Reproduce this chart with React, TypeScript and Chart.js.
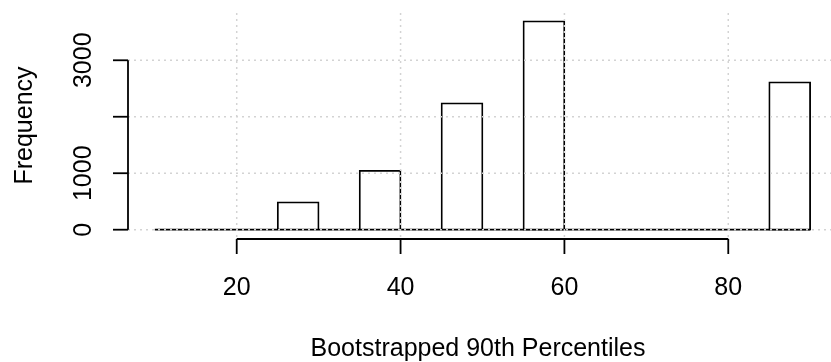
import React, { useEffect, useRef } from "react";
import { Chart, registerables } from "chart.js";

Chart.register(...registerables);

// Histogram bins (break points) and counts per bin
const breaks = [10, 15, 20, 25, 30, 35, 40, 45, 50, 55, 60, 65, 70, 75, 80, 85, 90];
const counts = [0, 0, 0, 485, 0, 1045, 0, 2238, 0, 3690, 0, 0, 0, 0, 0, 2610];

// Axis ticks and labels
const xTicks = [20, 40, 60, 80];
const xTickLabels = ["20", "40", "60", "80"];
const yTicks = [0, 1000, 2000, 3000];
const yTickLabels = ["0", "1000", "", "3000"];
const xTitle = "Bootstrapped 90th Percentiles";
const yTitle = "Frequency";

const W = 831;
const H = 362;
const FONT = '25px "Liberation Sans", Arial, sans-serif';
const LINE_W = 1.8;

export default function App() {
  const ref = useRef<HTMLCanvasElement | null>(null);

  useEffect(() => {
    document.body.style.margin = "0";
    const canvas = ref.current;
    if (!canvas) return;

    const barData = counts.map((c, i) => ({ x: (breaks[i] + breaks[i + 1]) / 2, y: c }));
    const baseData = [
      { x: breaks[0], y: 0 },
      { x: breaks[breaks.length - 1], y: 0 },
    ];

    const rAxes = {
      id: "rAxes",
      afterDatasetsDraw(chart: any) {
        const { ctx, chartArea: ca } = chart;
        const xs = chart.scales.x;
        const ys = chart.scales.y;
        const line = (x1: number, y1: number, x2: number, y2: number) => {
          ctx.beginPath();
          ctx.moveTo(x1, y1);
          ctx.lineTo(x2, y2);
          ctx.stroke();
        };
        ctx.save();
        // grid (drawn over the bars, as R's grid() does)
        ctx.strokeStyle = "#d3d3d3";
        ctx.lineWidth = 1.5;
        ctx.setLineDash([2, 4]);
        for (const v of xTicks) {
          const px = xs.getPixelForValue(v);
          line(px, ca.top, px, ca.bottom);
        }
        for (const v of yTicks) {
          const py = ys.getPixelForValue(v);
          line(ca.left, py, ca.right, py);
        }
        ctx.setLineDash([]);

        // axes
        ctx.strokeStyle = "#000";
        ctx.lineWidth = LINE_W;
        const axY = ca.bottom + 1;
        const x0 = xs.getPixelForValue(xTicks[0]);
        const x1 = xs.getPixelForValue(xTicks[xTicks.length - 1]);
        line(x0, axY, x1, axY);
        for (const v of xTicks) {
          const px = xs.getPixelForValue(v);
          line(px, axY, px, axY + 15);
        }
        const axX = ca.left;
        const y0 = ys.getPixelForValue(yTicks[0]);
        const y1 = ys.getPixelForValue(yTicks[yTicks.length - 1]);
        line(axX, y0, axX, y1);
        for (const v of yTicks) {
          const py = ys.getPixelForValue(v);
          line(axX - 15, py, axX, py);
        }

        // tick labels
        ctx.fillStyle = "#000";
        ctx.font = FONT;
        ctx.textAlign = "center";
        ctx.textBaseline = "alphabetic";
        xTicks.forEach((v, i) => {
          ctx.fillText(xTickLabels[i], xs.getPixelForValue(v), ca.bottom + 56.5);
        });
        yTicks.forEach((v, i) => {
          if (!yTickLabels[i]) return;
          ctx.save();
          ctx.translate(ca.left - 37.5, ys.getPixelForValue(v));
          ctx.rotate(-Math.PI / 2);
          ctx.fillText(yTickLabels[i], 0, 0);
          ctx.restore();
        });

        // titles
        ctx.fillText(xTitle, 478, ca.bottom + 118);
        ctx.save();
        ctx.translate(ca.left - 96, (ca.top + ca.bottom) / 2);
        ctx.rotate(-Math.PI / 2);
        ctx.fillText(yTitle, 0, 0);
        ctx.restore();

        ctx.restore();
      },
    };

    const chart = new Chart(canvas, {
      type: "bar",
      data: {
        datasets: [
          {
            type: "bar",
            data: barData as any,
            backgroundColor: "rgba(0,0,0,0)",
            borderColor: "#000",
            borderWidth: 0.2,
            inflateAmount: 0.8,
            borderSkipped: "start",
            barPercentage: 1,
            categoryPercentage: 1,
          } as any,
          {
            type: "line",
            data: baseData as any,
            borderColor: "#000",
            borderWidth: LINE_W,
            pointRadius: 0,
            fill: false,
          } as any,
        ],
      },
      options: {
        responsive: false,
        animation: false,
        devicePixelRatio: 1,
        layout: { padding: { left: 128, top: 13, right: 0, bottom: 124 } },
        plugins: { legend: { display: false }, tooltip: { enabled: false } },
        scales: {
          x: { type: "linear", min: 6.73, max: 92.54, offset: false, display: false },
          y: { type: "linear", min: -147, max: 3837, display: false },
        },
      } as any,
      plugins: [rAxes],
    });
    return () => chart.destroy();
  }, []);

  return (
    <div style={{ position: "absolute", left: 0, top: 0, width: W, height: H, background: "#fff" }}>
      <canvas ref={ref} width={W} height={H} style={{ display: "block", width: W, height: H }} />
    </div>
  );
}
